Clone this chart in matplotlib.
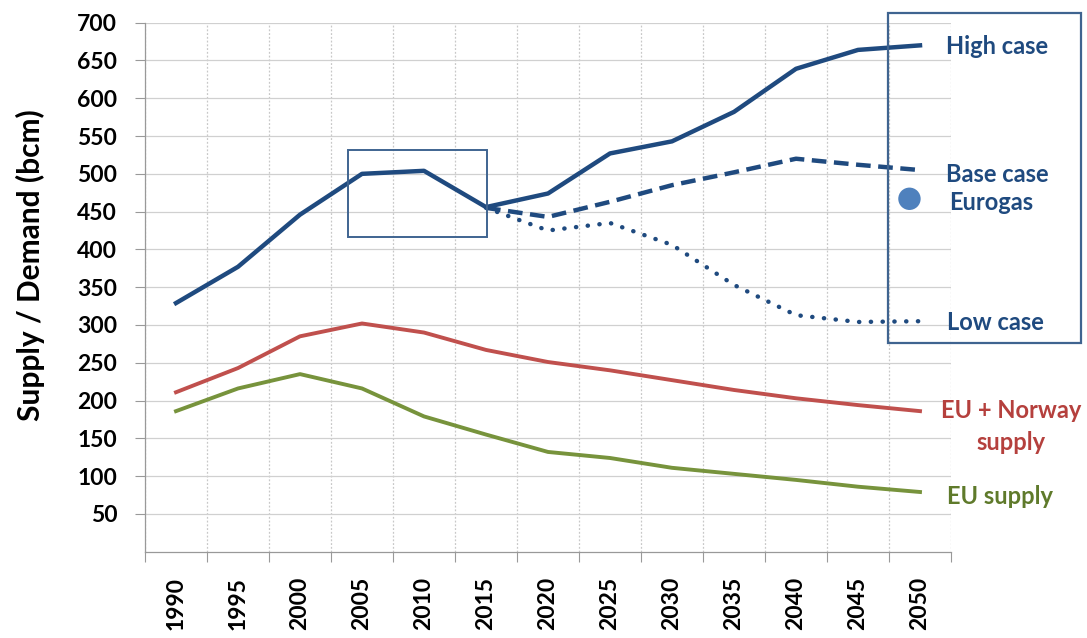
import matplotlib
matplotlib.use("Agg")
import matplotlib.pyplot as plt
from matplotlib.patches import Rectangle

plt.rcParams['font.family'] = ['Lato', 'DejaVu Sans']
plt.rcParams['font.weight'] = 'bold'

# Data (bcm)
years = ['1990', '1995', '2000', '2005', '2010', '2015', '2020',
         '2025', '2030', '2035', '2040', '2045', '2050']
high_case = [329, 377, 446, 500, 504, 456, 474, 527, 543, 582, 639, 664, 670]
base_case = [455, 443, 463, 485, 502, 520, 512, 505]      # from 2015
low_case = [455, 425, 435, 406, 353, 313, 304, 305]       # from 2015
eu_norway_supply = [211, 243, 285, 302, 290, 267, 251, 240, 227, 214, 203, 194, 186]
eu_supply = [186, 216, 235, 216, 179, 155, 132, 124, 111, 103, 95, 86, 79]
eurogas_base_2050 = 467
y_ticks = list(range(50, 701, 50))

NAVY = '#1F4A7F'
RED = '#C0504D'
GREEN = '#77933C'
BOX = '#3F6490'

fig = plt.figure(figsize=(10.87, 6.38), dpi=100)
ax = fig.add_axes([145 / 1087, 1 - 551.7 / 638, (951 - 145) / 1087, (551.7 - 22.7) / 638])

x = list(range(len(years)))
start = years.index('2015')
x_proj = x[start:]

ax.plot(x, high_case, color=NAVY, lw=3.2, solid_joinstyle='round', zorder=4)
ax.plot(x_proj, base_case, color=NAVY, lw=3.2, dashes=(3.3, 1.7), zorder=4)
ax.plot(x_proj, low_case, color=NAVY, lw=3.2, dashes=(0.05, 2.6),
        dash_capstyle='round', zorder=4)
ax.plot(x, eu_norway_supply, color=RED, lw=2.8, solid_joinstyle='round', zorder=3)
ax.plot(x, eu_supply, color=GREEN, lw=2.8, solid_joinstyle='round', zorder=3)
ax.scatter([x[-1] - 0.17], [eurogas_base_2050], s=260, color='#4F81BD',
           zorder=5, clip_on=False, edgecolors='none')

# Axes, ticks and grid
ax.set_xlim(-0.5, len(years) - 0.5)
ax.set_ylim(0, 700)
ax.set_yticks(y_ticks)
ax.tick_params(axis='y', length=7, width=0.8, color='#999999', pad=13, labelsize=16.5)
for lbl in ax.get_yticklabels():
    lbl.set_fontweight('bold')

bounds = [i - 0.5 for i in range(len(years) + 1)]
ax.set_xticks(bounds)
ax.set_xticklabels([''] * len(bounds))
ax.set_xticks(x, minor=True)
ax.set_xticklabels(years, minor=True, rotation=90, fontsize=16.5, fontweight='bold')
ax.tick_params(axis='x', which='major', length=7, width=0.8, color='#999999')
ax.tick_params(axis='x', which='minor', length=0, pad=18)

ax.grid(axis='y', color='#d0d0d0', lw=0.9, ls='-', zorder=0)
ax.grid(axis='x', which='major', color='#c8c8c8', lw=0.9, ls=(0, (1.5, 1.5)), zorder=0)
ax.set_axisbelow(True)
for side in ('top', 'right'):
    ax.spines[side].set_visible(False)
for side in ('left', 'bottom'):
    ax.spines[side].set_color('#999999')
    ax.spines[side].set_linewidth(0.9)

fig.text(30 / 1087, 1 - 265 / 638, 'Supply / Demand (bcm)', rotation=90,
         ha='center', va='center', fontsize=21.5, fontweight='bold', color='black')

# Highlight boxes
ax.add_patch(Rectangle((2.77, 417), 2.245, 114, fill=False, ec=BOX, lw=1.4,
                       zorder=6, clip_on=False))
fig.add_artist(Rectangle((888 / 1087, 1 - 343 / 638), (1081 - 888) / 1087, (343 - 13) / 638,
                         transform=fig.transFigure, fill=False, ec=BOX, lw=1.6, zorder=6))

# Series labels
def label(px, py, s, color, ha='left'):
    fig.text(px / 1087, 1 - py / 638, s, ha=ha, va='center', fontsize=17,
             fontweight='bold', color=color)

label(946, 47, 'High case', NAVY)
label(946, 175, 'Base case', NAVY)
label(949, 203, 'Eurogas', NAVY)
label(947, 322, 'Low case', NAVY)
label(1011, 411, 'EU + Norway', '#B5403D', ha='center')
label(1011, 442, 'supply', '#B5403D', ha='center')
label(947, 496, 'EU supply', '#5F7A2B')

fig.savefig('out.png', dpi=100)
